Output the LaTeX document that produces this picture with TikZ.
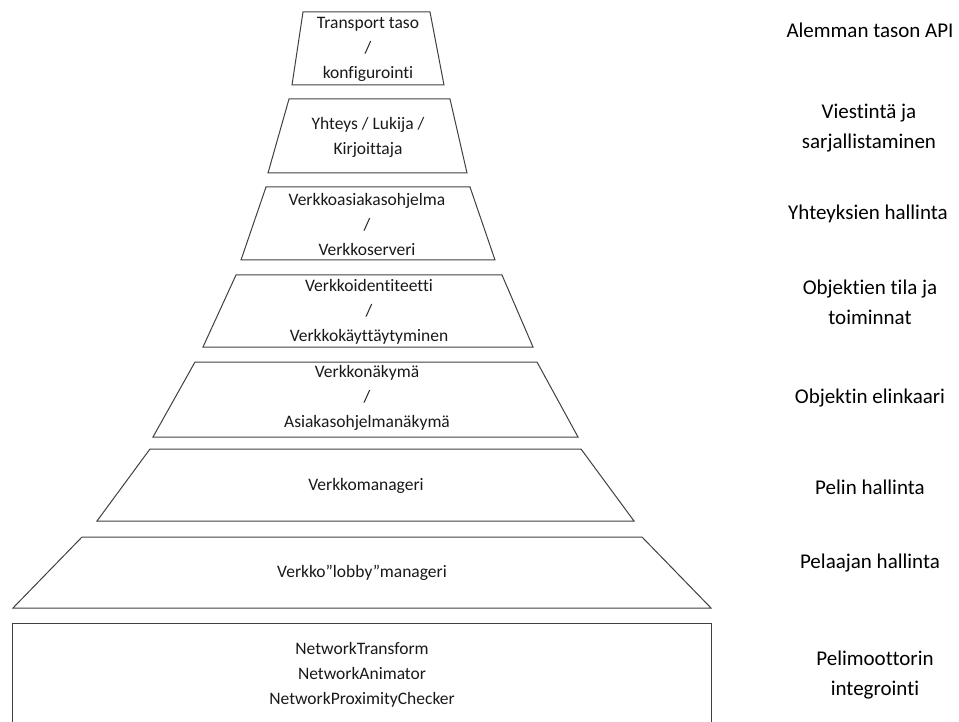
\documentclass[tikz,border=0pt]{standalone}
\usepackage{fontspec}
\setmainfont{Carlito}[Ligatures=NoCommon]
\begin{document}
\begin{tikzpicture}[x=1pt,y=-1pt,
  layer/.style={draw=black!75, line width=1pt, line join=miter},
  inner/.style={font=\fontsize{17.5}{25}\selectfont, align=center, text=black!90, inner sep=0pt},
  side/.style={font=\fontsize{21}{30}\selectfont, align=center, inner sep=0pt}]
\useasboundingbox (0,0) rectangle (959,722);
% layers
\draw[layer] (303,12) -- (430,12) -- (444,85) -- (292,85) -- cycle;
\draw[layer] (289,99) -- (450,99) -- (467,173) -- (268,173) -- cycle;
\draw[layer] (266,187) -- (470,187) -- (495,260) -- (241,260) -- cycle;
\draw[layer] (236,275) -- (502,275) -- (533,347) -- (203,347) -- cycle;
\draw[layer] (195,362) -- (537,362) -- (578,437) -- (153,437) -- cycle;
\draw[layer] (150,449) -- (581,449) -- (634,521) -- (97,521) -- cycle;
\draw[layer] (82,537) -- (642,537) -- (711,608) -- (13,608) -- cycle;
\draw[layer] (12,740) -- (12,623) -- (711,623) -- (711,740);
% layer texts
\node[inner] (t1) at (368,49) {Transport taso\\/\\konfigurointi};
\node[inner] (t2) at (368,137) {Yhteys / Lukija /\\Kirjoittaja};
\node[inner] (t3) at (367,224) {Verkkoasiakasohjelma\\/\\Verkkoserveri};
\node[inner] (t4) at (369,312) {Verkkoidentiteetti\\/\\Verkkokäyttäytyminen};
\node[inner] (t5) at (367,398) {Verkkonäkymä\\/\\Asiakasohjelmanäkymä};
\node[inner] (t6) at (366,486) {Verkkomanageri};
\node[inner] (t7) at (362,573) {Verkko”lobby”manageri};
\node[inner] (t8) at (362,675) {NetworkTransform\\NetworkAnimator\\NetworkProximityChecker};
% side labels
\node[side] (s1) at (870,30) {Alemman tason API};
\node[side] (s2) at (869,128) {Viestintä ja\\sarjallistaminen};
\node[side] (s3) at (868,214) {Yhteyksien hallinta};
\node[side] (s4) at (870,302) {Objektien tila ja\\toiminnat};
\node[side] (s5) at (870,398) {Objektin elinkaari};
\node[side] (s6) at (870,487) {Pelin hallinta};
\node[side] (s7) at (870,563) {Pelaajan hallinta};
\node[side] (s8) at (875,675) {Pelimoottorin\\integrointi};
\end{tikzpicture}
\end{document}
